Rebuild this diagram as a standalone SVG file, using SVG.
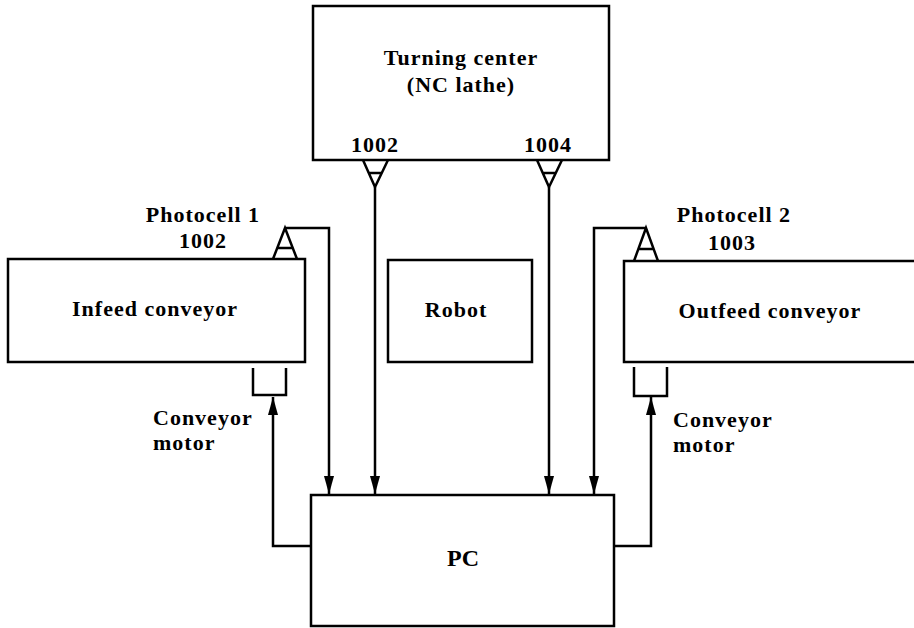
<svg xmlns="http://www.w3.org/2000/svg" width="914" height="628" viewBox="0 0 914 628">
<style>
.box{fill:#fff;stroke:#000;stroke-width:2.5}
.sym{fill:none;stroke:#000;stroke-width:2.5;stroke-linejoin:miter}
.wire{fill:none;stroke:#000;stroke-width:2.5}
text{font-family:"Liberation Serif","Times New Roman",serif;font-weight:bold;font-size:22px;letter-spacing:1px;fill:#000}
.mid{text-anchor:middle}
</style>
<defs>
<marker id="arr" markerUnits="userSpaceOnUse" markerWidth="18" markerHeight="10" refX="18" refY="5" orient="auto">
<path d="M0,0 L18,5 L0,10 z" fill="#000"/>
</marker>
</defs>
<rect width="914" height="628" fill="#fff"/>
<g id="turning-center">
<rect class="box" x="313" y="6" width="296" height="154"/>
<text class="mid" x="461" y="65">Turning center</text>
<text class="mid" x="461" y="92">(NC lathe)</text>
<text class="mid" x="375" y="152">1002</text>
<text class="mid" x="548" y="152">1004</text>
<path class="sym" d="M363,160 L375,187 L388,160 M368.5,173 H381.5"/>
<path class="sym" d="M537,160 L549,187 L562,160 M542.5,173 H555.5"/>
</g>
<g id="infeed-conveyor">
<rect class="box" x="8" y="259" width="297" height="103"/>
<text class="mid" x="155" y="316">Infeed conveyor</text>
<text class="mid" x="203" y="222">Photocell 1</text>
<text class="mid" x="203" y="248">1002</text>
<path class="sym" d="M273,259 L285,228 L297,259 M277.5,248 H292.5"/>
<path class="sym" d="M253,368 V395 H286 V368"/>
<text x="153" y="425">Conveyor</text>
<text x="153" y="450">motor</text>
</g>
<g id="robot">
<rect class="box" x="388" y="260" width="144" height="102"/>
<text class="mid" x="456" y="317">Robot</text>
</g>
<g id="outfeed-conveyor">
<rect class="box" x="624" y="261" width="294" height="101"/>
<text class="mid" x="770" y="318">Outfeed conveyor</text>
<text class="mid" x="734" y="222">Photocell 2</text>
<text class="mid" x="732" y="250">1003</text>
<path class="sym" d="M634,261 L646,228 L658,261 M638.5,249 H653.5"/>
<path class="sym" d="M634,367 V396 H667 V367"/>
<text x="673" y="427">Conveyor</text>
<text x="673" y="452">motor</text>
</g>
<g id="pc">
<rect class="box" x="311" y="495" width="303" height="131"/>
<text class="mid" x="463" y="566" style="font-size:24px;letter-spacing:0">PC</text>
</g>
<g id="connectors">
<path class="wire" d="M285,228 H329 V494" marker-end="url(#arr)"/>
<path class="wire" d="M375,187 V494" marker-end="url(#arr)"/>
<path class="wire" d="M549,187 V494" marker-end="url(#arr)"/>
<path class="wire" d="M646,228 H594 V494" marker-end="url(#arr)"/>
<path class="wire" d="M311,546 H273 V397" marker-end="url(#arr)"/>
<path class="wire" d="M614,546 H651 V397" marker-end="url(#arr)"/>
</g>
</svg>
